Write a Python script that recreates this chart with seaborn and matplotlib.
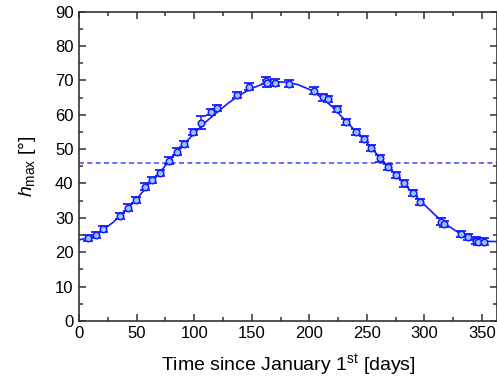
import numpy as np
import pandas as pd
import seaborn as sns
import matplotlib
matplotlib.use("Agg")
import matplotlib.pyplot as plt
from matplotlib.ticker import MultipleLocator

# measured maximum solar altitude
days = [7.7, 15.0, 20.9, 36.0, 42.6, 49.9, 57.7, 63.8, 70.2, 78.3, 84.7, 91.3,
        98.6, 105.8, 114.5, 120.0, 136.9, 147.6, 162.4, 163.0, 170.3, 182.7,
        204.4, 211.6, 216.0, 224.1, 232.2, 240.6, 247.8, 253.6, 261.6, 268.3,
        275.3, 282.2, 290.0, 296.3, 314.6, 316.6, 331.7, 337.8, 344.8, 346.8, 352.0]
h_max = [24.1, 25.0, 26.7, 30.6, 33.0, 35.1, 39.1, 40.9, 43.1, 46.6, 49.3, 51.5,
         54.9, 57.7, 60.7, 61.9, 65.8, 68.2, 69.9, 69.2, 69.3, 69.0,
         67.0, 65.1, 64.6, 61.7, 58.0, 55.1, 52.9, 50.4, 47.3, 44.9,
         42.5, 40.0, 37.2, 34.7, 28.9, 28.2, 25.3, 24.4, 23.4, 23.1, 23.1]
h_err = [0.9, 0.9, 0.9, 0.9, 0.9, 0.9, 0.9, 0.9, 0.9, 1.0, 0.9, 0.9,
         0.9, 1.9, 0.9, 0.9, 0.9, 1.0, 1.0, 1.0, 1.0, 1.0,
         1.0, 1.0, 1.0, 0.9, 0.9, 0.9, 0.9, 0.9, 0.9, 0.9,
         0.9, 0.9, 0.9, 0.9, 1.0, 1.0, 0.9, 0.9, 0.9, 0.9, 0.9]

# fitted curve
fit_days = [0, 10, 20, 30, 40, 50, 60, 70, 80, 90, 100, 110, 120, 130, 140, 150,
            160, 170, 180, 190, 200, 210, 220, 230, 240, 250, 260, 270, 280,
            290, 300, 310, 320, 330, 340, 350, 363]
fit_h = [23.6, 24.3, 26.3, 28.8, 32.1, 35.4, 39.6, 43.2, 47.2, 51.0, 54.6, 57.9,
         60.8, 63.5, 65.8, 67.7, 69.0, 69.6, 69.5, 68.8, 67.4, 65.2, 62.3, 58.8,
         55.3, 51.9, 48.0, 44.3, 40.7, 37.2, 33.8, 30.6, 27.8, 25.6, 24.0, 23.2, 23.1]

threshold = 46.1

meas = pd.DataFrame({"day": days, "h": h_max, "err": h_err})
fit = pd.DataFrame({"day": fit_days, "h": fit_h})

sns.set_style("ticks")
plt.rcParams["font.family"] = ["Liberation Sans", "DejaVu Sans"]
plt.rcParams["mathtext.fontset"] = "custom"
plt.rcParams["mathtext.rm"] = "Liberation Sans"
plt.rcParams["mathtext.it"] = "Liberation Sans:italic"

fig = plt.figure(figsize=(4.97, 3.78), dpi=100)
ax = fig.add_axes([0.159, 0.151, 0.841, 0.818])

line_col = "#1a1aff"
ax.axhline(threshold, color="#4a55ff", lw=1.2, ls=(0, (3, 2)), zorder=1)
sns.lineplot(data=fit, x="day", y="h", ax=ax, color=line_col, lw=1.2, zorder=2)
ax.errorbar(meas["day"], meas["h"], yerr=meas["err"], fmt="none",
            ecolor=line_col, elinewidth=1.1, capsize=3.5, capthick=1.3, zorder=3)
sns.scatterplot(data=meas, x="day", y="h", ax=ax, s=22, color="#8ec8ff",
                edgecolor=line_col, linewidth=1.1, zorder=4)

ax.set_xlim(0, 363)
ax.set_ylim(0, 90)
ax.xaxis.set_major_locator(MultipleLocator(50))
ax.xaxis.set_minor_locator(MultipleLocator(25))
ax.yaxis.set_major_locator(MultipleLocator(10))
ax.yaxis.set_minor_locator(MultipleLocator(5))
ax.tick_params(which="both", direction="in", top=True, right=True,
               color="#333333", labelsize=12, labelcolor="black", width=1.1)
ax.tick_params(which="major", length=5, pad=4)
ax.tick_params(which="minor", length=3)
for sp in ax.spines.values():
    sp.set_color("#333333")
    sp.set_linewidth(1.2)

ax.set_xlabel("Time since January 1$^{\\rm st}$ [days]", fontsize=14, labelpad=8,
              color="black")
ax.set_ylabel("$h_{\\rm max}$ [°]", fontsize=14, labelpad=12, color="black")

fig.savefig("out.png", dpi=100)
